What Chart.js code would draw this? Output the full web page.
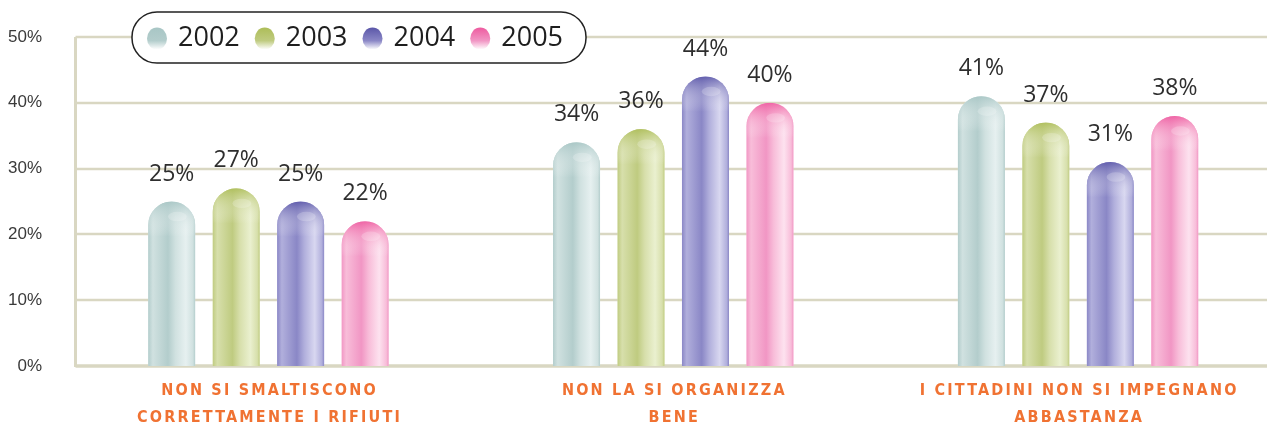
<!DOCTYPE html>
<html>
<head>
<meta charset="utf-8">
<script src="https://cdn.jsdelivr.net/npm/chart.js@4.4.1/dist/chart.umd.min.js"></script>
<style>
  html, body { margin: 0; padding: 0; background: #fff; overflow: hidden; }
  #wrap { width: 1282px; height: 428px; }
</style>
</head>
<body>
<div id="wrap"><canvas id="chart" width="1282" height="428"></canvas></div>
<script>
// data
const categories = [
    ['NON SI SMALTISCONO', 'CORRETTAMENTE I RIFIUTI'],
    ['NON LA SI ORGANIZZA', 'BENE'],
    ['I CITTADINI NON SI IMPEGNANO', 'ABBASTANZA']
];
const years = ['2002', '2003', '2004', '2005'];
const values2002 = [25, 34, 41];
const values2003 = [27, 36, 37];
const values2004 = [25, 44, 31];
const values2005 = [22, 40, 38];
const yTicks = [0, 10, 20, 30, 40, 50];

// glossy colours per year
const palette = [
    { light: '#e6f0f0', base: '#d0e1e0', dark: '#b3cdcc', cap: '#a8c6c5' },
    { light: '#eaf0cf', base: '#d7dfab', dark: '#bfcb80', cap: '#adbd58' },
    { light: '#d8d7f0', base: '#b1afdc', dark: '#8a87c6', cap: '#5a56a8' },
    { light: '#fde2ef', base: '#f8bdd9', dark: '#f196c4', cap: '#ee5a9f' }
];

const gridColor = '#d9d7c2';
const axisOffset = 9.5;

function barPath(ctx, x, top, w, base) {
    const r = w / 2;
    const l = x - r;
    ctx.beginPath();
    ctx.moveTo(l, base);
    ctx.lineTo(l, top + r);
    ctx.arc(x, top + r, r, Math.PI, 0);
    ctx.lineTo(l + w, base);
    ctx.closePath();
}

// grid and axis lines, drawn from the y scale ticks
const gridPlugin = {
    id: 'grid',
    beforeDatasetsDraw(chart) {
        const { ctx, chartArea, scales } = chart;
        const left = chartArea.left + axisOffset;
        ctx.save();
        ctx.strokeStyle = gridColor;
        scales.y.ticks.forEach(t => {
            const y = Math.round(scales.y.getPixelForValue(t.value));
            ctx.lineWidth = t.value === 0 ? 3.5 : 2.5;
            ctx.beginPath();
            ctx.moveTo(left, y);
            ctx.lineTo(chartArea.right, y);
            ctx.stroke();
        });
        ctx.lineWidth = 3;
        ctx.beginPath();
        ctx.moveTo(left, scales.y.getPixelForValue(50));
        ctx.lineTo(left, scales.y.getPixelForValue(0) + 1);
        ctx.stroke();
        ctx.restore();
    }
};

// gloss on each bar, value labels above
const glossPlugin = {
    id: 'gloss',
    afterDatasetsDraw(chart) {
        const { ctx } = chart;
        chart.data.datasets.forEach((ds, di) => {
            const meta = chart.getDatasetMeta(di);
            const p = palette[di];
            meta.data.forEach((bar, i) => {
                const { x, y, width, base } = bar.getProps(['x', 'y', 'width', 'base'], true);
                const l = x - width / 2;
                ctx.save();
                barPath(ctx, x, y, width, base);
                ctx.clip();
                const hg = ctx.createLinearGradient(l, 0, l + width, 0);
                hg.addColorStop(0, p.dark);
                hg.addColorStop(0.1, p.base);
                hg.addColorStop(0.42, p.dark);
                hg.addColorStop(0.58, p.base);
                hg.addColorStop(0.8, p.light);
                hg.addColorStop(0.95, p.base);
                hg.addColorStop(1, p.dark);
                ctx.fillStyle = hg;
                ctx.fillRect(l, y, width, base - y);
                const vg = ctx.createLinearGradient(0, y, 0, y + width * 0.75);
                vg.addColorStop(0, p.cap);
                vg.addColorStop(1, 'rgba(255,255,255,0)');
                ctx.globalAlpha = 0.85;
                ctx.fillStyle = vg;
                ctx.fillRect(l, y, width, width * 0.75);
                ctx.globalAlpha = 0.2;
                ctx.fillStyle = '#ffffff';
                ctx.beginPath();
                ctx.ellipse(x + width * 0.12, y + width * 0.32, width * 0.2, width * 0.1, 0, 0, Math.PI * 2);
                ctx.fill();
                ctx.restore();

                ctx.save();
                ctx.font = '23px "Open Sans", sans-serif';
                ctx.fillStyle = '#2e2e2e';
                ctx.textAlign = 'center';
                ctx.textBaseline = 'bottom';
                ctx.fillText(ds.data[i] + '%', x, y - 16);
                ctx.restore();
            });
        });
    },
    afterDraw(chart) {
        const { ctx, chartArea, scales } = chart;
        // category labels, letter-spaced
        ctx.save();
        ctx.font = 'bold 16px "DejaVu Sans Condensed", "Liberation Sans Narrow", sans-serif';
        ctx.fillStyle = '#f07232';
        ctx.textAlign = 'center';
        ctx.textBaseline = 'middle';
        ctx.letterSpacing = '2.2px';
        categories.forEach((lines, i) => {
            const x = scales.x.getPixelForValue(i) + 1.1;
            lines.forEach((s, k) => {
                ctx.fillText(s, x, chartArea.bottom + 25 + k * 27);
            });
        });
        ctx.restore();

        // legend box
        ctx.save();
        const bx = 132, by = 12, bw = 454, bh = 51, r = 25;
        ctx.beginPath();
        ctx.roundRect(bx, by, bw, bh, r);
        ctx.fillStyle = '#ffffff';
        ctx.fill();
        ctx.lineWidth = 1.5;
        ctx.strokeStyle = '#222';
        ctx.stroke();
        ctx.font = '27px "Open Sans", sans-serif';
        ctx.textBaseline = 'middle';
        ctx.textAlign = 'left';
        let lx = 147;
        const cy = by + bh / 2 + 1;
        chart.data.datasets.forEach((ds, di) => {
            const p = palette[di];
            const g = ctx.createLinearGradient(0, cy - 11, 0, cy + 11);
            g.addColorStop(0, p.cap);
            g.addColorStop(0.6, p.dark);
            g.addColorStop(1, '#ffffff');
            ctx.fillStyle = g;
            ctx.beginPath();
            ctx.ellipse(lx + 10, cy, 10, 11, 0, 0, Math.PI * 2);
            ctx.fill();
            ctx.fillStyle = '#1e1e1e';
            ctx.fillText(ds.label, lx + 31, cy);
            lx += 31 + ctx.measureText(ds.label).width + 15;
        });
        ctx.restore();
    }
};

const allValues = [values2002, values2003, values2004, values2005];

new Chart(document.getElementById('chart').getContext('2d'), {
    type: 'bar',
    data: {
        labels: categories,
        datasets: years.map((yr, i) => ({
            label: yr,
            data: allValues[i],
            backgroundColor: palette[i].base,
            borderWidth: 0,
            borderRadius: { topLeft: 30, topRight: 30 },
            borderSkipped: 'bottom',
            barPercentage: 0.73,
            categoryPercentage: 0.637
        }))
    },
    options: {
        responsive: false,
        animation: false,
        layout: { padding: { top: 37, bottom: 62, left: 0, right: 1.5 } },
        plugins: {
            legend: { display: false },
            tooltip: { enabled: false }
        },
        scales: {
            x: {
                afterFit: s => { s.height = 0; },
                grid: { display: false },
                border: { display: false },
                ticks: { display: false }
            },
            y: {
                min: 0,
                max: 50,
                afterFit: s => { s.width = 66; },
                afterBuildTicks: s => { s.ticks = yTicks.map(v => ({ value: v })); },
                grid: { display: false },
                border: { display: false },
                ticks: {
                    padding: 16,
                    color: '#3a3a3a',
                    font: { family: '"Liberation Sans", sans-serif', size: 17 },
                    callback: v => v + '%'
                }
            }
        }
    },
    plugins: [gridPlugin, glossPlugin]
});
</script>
</body>
</html>
